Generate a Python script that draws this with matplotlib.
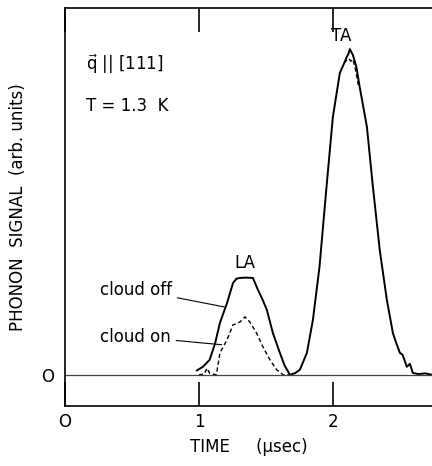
import matplotlib
matplotlib.use("Agg")
import matplotlib.pyplot as plt

# signal traces, time in usec, signal in arbitrary units
t_off = [0.985, 1.03, 1.08, 1.12, 1.157, 1.21, 1.254, 1.28, 1.306, 1.35, 1.403, 1.44, 1.475, 1.507,
         1.552, 1.604, 1.64, 1.679, 1.72, 1.754, 1.806, 1.851, 1.90, 1.955, 2.0, 2.052, 2.085,
         2.104, 2.115, 2.127, 2.149, 2.175, 2.20, 2.254, 2.299, 2.35, 2.403, 2.425, 2.448, 2.47,
         2.5, 2.52, 2.552, 2.575, 2.597, 2.64, 2.69, 2.74]
s_off = [0.012, 0.022, 0.041, 0.085, 0.142, 0.196, 0.25, 0.262, 0.264, 0.265, 0.264, 0.232, 0.205, 0.177,
         0.114, 0.06, 0.025, 0.0, 0.005, 0.014, 0.06, 0.15, 0.294, 0.523, 0.703, 0.823, 0.85,
         0.867, 0.874, 0.888, 0.872, 0.84, 0.785, 0.676, 0.512, 0.34, 0.204, 0.16, 0.114, 0.09,
         0.06, 0.055, 0.022, 0.03, 0.005, 0.002, 0.004, 0.0]

t_on = [1.0, 1.04, 1.06, 1.08, 1.13, 1.157, 1.209, 1.254, 1.306, 1.343, 1.38, 1.43, 1.478,
        1.53, 1.58, 1.63, 1.679]
s_on = [0.0, 0.002, 0.018, 0.004, 0.0, 0.06, 0.095, 0.136, 0.144, 0.158, 0.144, 0.114, 0.076,
        0.041, 0.014, 0.0, 0.0]

# top of the TA peak with the cloud on
t_on_ta = [2.085, 2.104, 2.12, 2.135, 2.15, 2.17, 2.19]
s_on_ta = [0.85, 0.858, 0.862, 0.855, 0.86, 0.83, 0.79]

x_ticks = [0, 1, 2]

plt.rcParams["font.family"] = "DejaVu Sans"
fig = plt.figure(figsize=(4.32, 4.66), dpi=100)
ax = fig.add_axes([65 / 432, 60 / 466, 1 - 65 / 432, 398 / 466])

ax.plot(t_off, s_off, color="black", lw=1.4)
ax.plot(t_on, s_on, color="black", lw=1.0, ls=(0, (3, 2)))
ax.plot(t_on_ta, s_on_ta, color="black", lw=1.0, ls=(0, (3, 2)))
ax.axhline(0, color="#444444", lw=0.9)

ax.set_xlim(0, 2.74)
ax.set_ylim(-0.085, 1.0)
ax.spines["right"].set_visible(False)
for sp in ("left", "top", "bottom"):
    ax.spines[sp].set_linewidth(1.2)

ax.set_xticks(x_ticks)
ax.set_xticklabels(["O", "1", "2"], fontsize=12)
ax.tick_params(axis="x", direction="in", length=17, width=1.2, top=True, pad=5)
ax.set_yticks([0])
ax.set_yticklabels(["O"], fontsize=12)
ax.tick_params(axis="y", length=0, pad=8)

ax.set_xlabel("TIME     (\u03bcsec)", fontsize=12, labelpad=5)
ax.set_ylabel("PHONON  SIGNAL  (arb. units)", fontsize=12, labelpad=10)

ax.text(0.16, 0.83, r"$\vec{\mathregular{q}}$ || [111]", fontsize=12)
ax.text(0.16, 0.72, "T = 1.3  K", fontsize=12)
ax.text(1.34, 0.29, "LA", fontsize=12, ha="center")
ax.text(2.06, 0.91, "TA", fontsize=12, ha="center")

ax.annotate("cloud off", xy=(1.19, 0.185), xytext=(0.26, 0.232), fontsize=12,
            va="center", arrowprops=dict(arrowstyle="-", lw=0.8, color="black",
                                         shrinkA=2, shrinkB=0))
ax.annotate("cloud on", xy=(1.17, 0.082), xytext=(0.26, 0.104), fontsize=12,
            va="center", arrowprops=dict(arrowstyle="-", lw=0.8, color="black",
                                         shrinkA=2, shrinkB=0))

fig.savefig("out.png", dpi=100)
